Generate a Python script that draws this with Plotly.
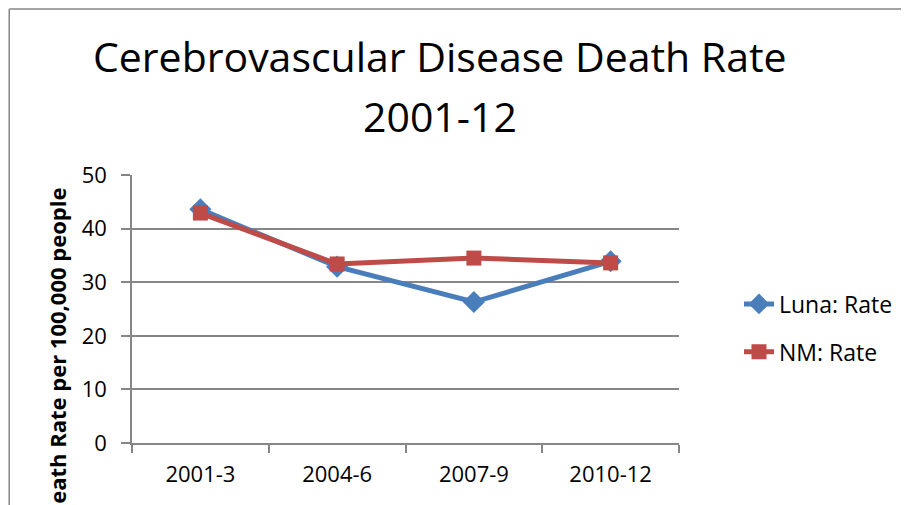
import plotly.graph_objects as go

categories = ["2001-3", "2004-6", "2007-9", "2010-12"]
luna_rate = [43.6, 32.9, 26.3, 33.9]
nm_rate = [42.9, 33.4, 34.5, 33.6]
y_ticks = [0, 10, 20, 30, 40, 50]

BLUE = "#4a7ebb"
RED = "#be4b48"
GRID = "#868686"
FONT = "Open Sans"

# page body has an 8px margin; figure coordinates = page coordinates - OFF
OFF = 8
W, H = 909 - OFF, 505 - OFF
L, R, T, B = 132 - OFF, 680 - OFF, 175 - OFF, 443 - OFF

def px_x(x):
    return (x - OFF - L) / (R - L)

def px_y(y):
    return (B - (y - OFF)) / (B - T)

fig = go.Figure()
fig.add_trace(go.Scatter(
    x=categories, y=luna_rate, name="Luna: Rate", mode="lines+markers",
    line=dict(color=BLUE, width=5),
    marker=dict(symbol="diamond", size=17, color=BLUE),
    legendgroup="a",
))
fig.add_trace(go.Scatter(
    x=categories, y=nm_rate, name="NM: Rate", mode="lines+markers",
    line=dict(color=RED, width=5),
    marker=dict(symbol="square", size=15, color=RED),
    legendgroup="b",
))

fig.update_layout(
    width=W, height=H,
    margin=dict(l=L, r=W - R, t=T, b=H - B),
    paper_bgcolor="white", plot_bgcolor="white",
    font=dict(family=FONT, color="black"),
    showlegend=True,
    legend=dict(
        x=px_x(739), xanchor="left", y=px_y(328), yanchor="middle",
        font=dict(size=23, family=FONT, color="black"),
        tracegroupgap=15, traceorder="grouped",
        bgcolor="rgba(0,0,0,0)",
    ),
    xaxis=dict(
        type="category", range=[-0.5, 3.5],
        showline=True, linecolor=GRID, linewidth=1.5,
        ticks="outside", tickson="boundaries", ticklen=8, tickcolor=GRID, tickwidth=1.5,
        tickfont=dict(size=22, family=FONT, color="black"),
        ticklabelstandoff=11,
        showgrid=False, fixedrange=True,
    ),
    yaxis=dict(
        range=[0, 50], tickvals=y_ticks,
        showline=True, linecolor=GRID, linewidth=1.5,
        ticks="outside", ticklen=9, tickcolor=GRID, tickwidth=1.5,
        showgrid=True, gridcolor=GRID, gridwidth=1.5,
        zeroline=False,
        tickfont=dict(size=22, family=FONT, color="black"),
        ticklabelstandoff=10,
    ),
    annotations=[
        dict(text="Cerebrovascular Disease Death Rate", xref="paper", yref="paper",
             x=px_x(441), y=px_y(56), xanchor="center", yanchor="middle",
             showarrow=False, font=dict(size=41, family=FONT, color="black")),
        dict(text="2001-12", xref="paper", yref="paper",
             x=px_x(441), y=px_y(116), xanchor="center", yanchor="middle",
             showarrow=False, font=dict(size=41, family=FONT, color="black")),
        dict(text="<b>Death Rate per 100,000 people</b>", xref="paper", yref="paper",
             x=px_x(57), y=px_y(354), xanchor="center", yanchor="middle",
             textangle=-90, showarrow=False,
             font=dict(size=22, family=FONT, color="black")),
    ],
    shapes=[
        dict(type="line", xref="paper", yref="paper",
             x0=px_x(OFF + 1), x1=px_x(OFF + 1), y0=px_y(OFF + 1), y1=px_y(520),
             line=dict(color=GRID, width=1.5)),
        dict(type="line", xref="paper", yref="paper",
             x0=px_x(OFF + 1), x1=px_x(920), y0=px_y(OFF + 1), y1=px_y(OFF + 1),
             line=dict(color=GRID, width=1.5)),
    ],
)

fig.write_html("out.html")
